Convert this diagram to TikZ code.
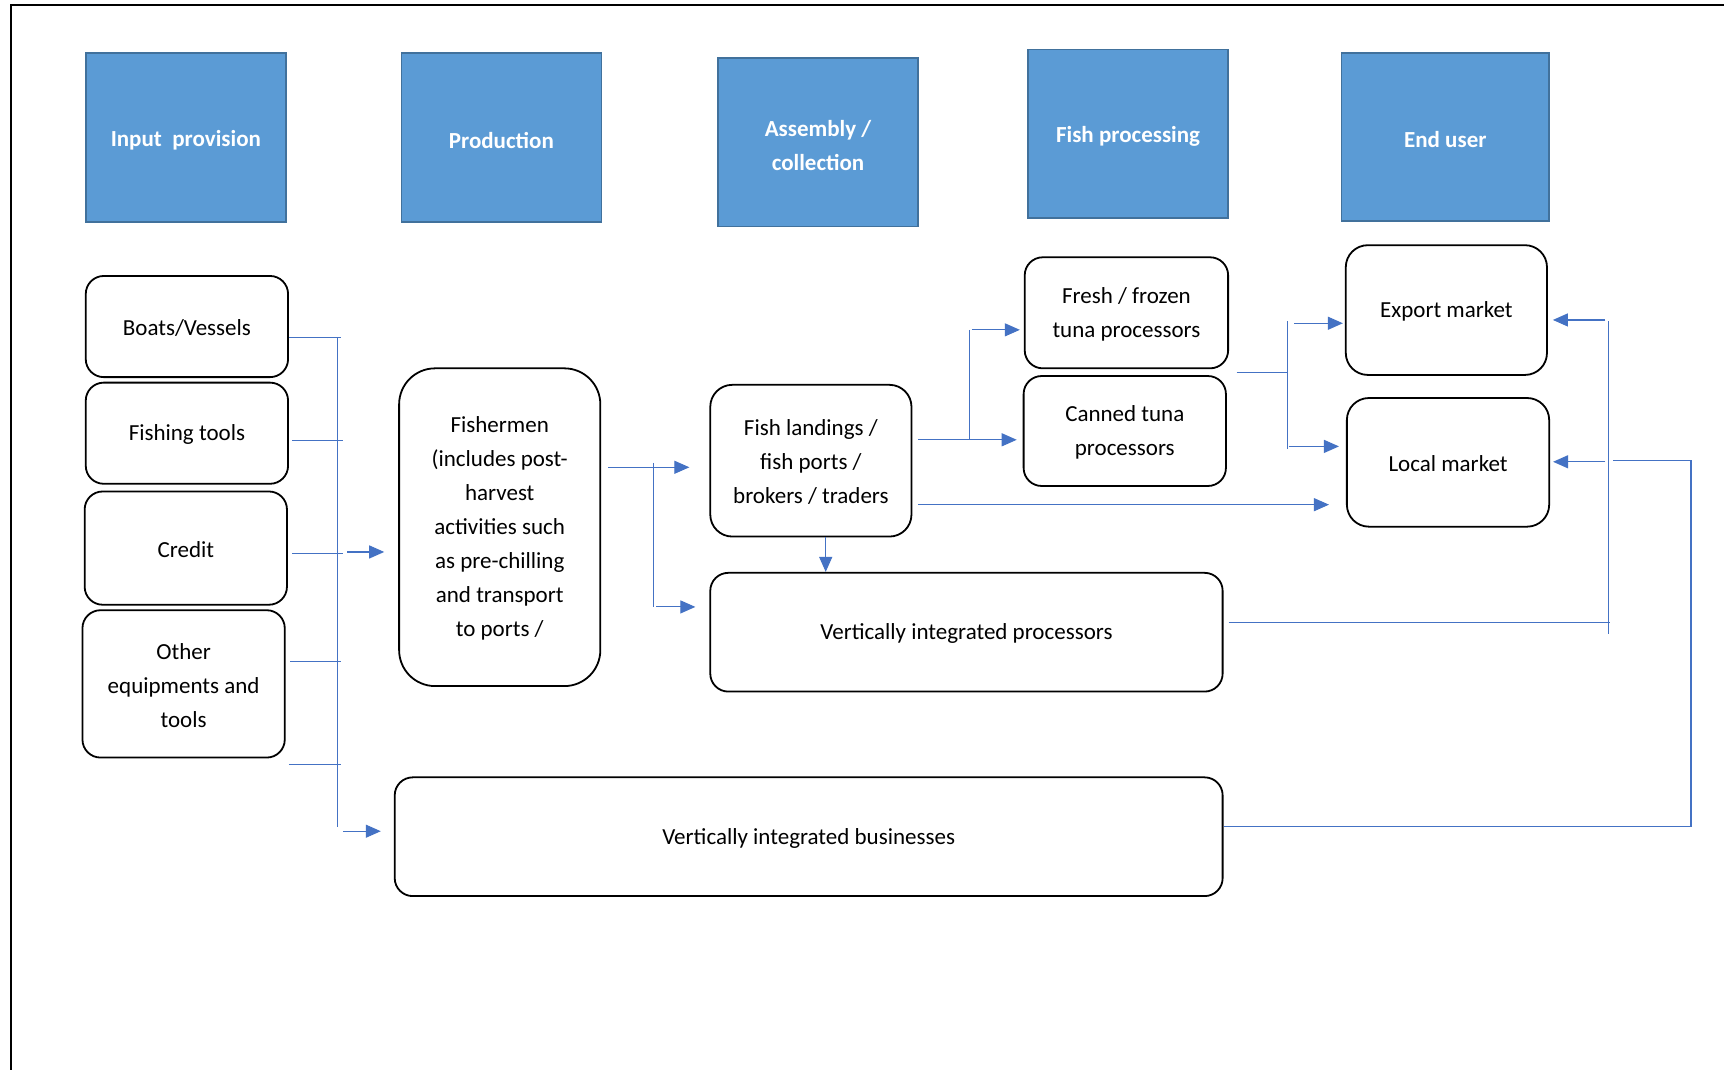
\documentclass[tikz,border=0pt]{standalone}
\usepackage{fontspec}
\setmainfont{Carlito}
\usetikzlibrary{arrows.meta,fit}
\definecolor{hdrfill}{HTML}{5B9BD5}
\definecolor{hdrline}{HTML}{41719C}
\definecolor{conncol}{HTML}{4472C4}
\tikzset{
  hdr/.style={draw=hdrline, line width=1.6pt, fill=hdrfill, inner sep=0pt},
  hdrtxt/.style={text=white, inner sep=0pt, font=\fontsize{23}{34}\selectfont\bfseries, align=center, yshift=-3pt},
  wbox/.style={draw=black, line width=1.8pt, rounded corners=18pt, fill=white, inner sep=0pt},
  boxtxt/.style={inner sep=0pt, font=\fontsize{23}{34}\selectfont, align=center, yshift=-1.5pt},
  conn/.style={draw=conncol, line width=1.1pt},
  arr/.style={conn, -{Triangle[length=15pt,width=13pt]}},
}
\newcommand{\boxlabel}[3][boxtxt]{\node[#1] (#2-t) at (#2.center) {#3};}
\begin{document}
\begin{tikzpicture}[x=1.0995pt,y=-1.0995pt]
\useasboundingbox (0,0) rectangle (1568,973);
\fill[white] (0,0) rectangle (1568,973);
% outer frame
\draw[line width=2pt] (10,973) -- (10,5) -- (1568,5);

% header boxes
\node[hdr, fit={(78,48)(260,202)}] (h1) {};
\node[hdr, fit={(365,48)(547,202)}] (h2) {};
\node[hdr, fit={(653,53)(835,206)}] (h3) {};
\node[hdr, fit={(935,45)(1117,198)}] (h4) {};
\node[hdr, fit={(1220,48)(1409,201)}] (h5) {};
\boxlabel[hdrtxt]{h1}{Input\ \ provision}
\boxlabel[hdrtxt]{h2}{Production}
\boxlabel[hdrtxt]{h3}{Assembly /\\collection}
\boxlabel[hdrtxt]{h4}{Fish processing}
\boxlabel[hdrtxt]{h5}{End user}

% left column
\node[wbox, fit={(78,251)(262,343)}] (boats) {};
\node[wbox, fit={(78,348)(262,440)}] (tools) {};
\node[wbox, fit={(77,447)(261,550)}] (credit) {};
\node[wbox, fit={(75,555)(259,689)}] (other) {};
\boxlabel{boats}{Boats/Vessels}
\boxlabel{tools}{Fishing tools}
\boxlabel{credit}{Credit}
\boxlabel{other}{Other\\equipments and\\tools}

% middle and right
\node[wbox, rounded corners=36pt, fit={(363,335)(546,624)}] (fisher) {};
\node[wbox, rounded corners=22pt, fit={(646,350)(829,488)}] (land) {};
\node[wbox, fit={(646,521)(1112,629)}] (vip) {};
\node[wbox, fit={(359,707)(1112,815)}] (vib) {};
\node[wbox, fit={(932,234)(1117,335)}] (fresh) {};
\node[wbox, fit={(931,342)(1115,442)}] (canned) {};
\node[wbox, rounded corners=22pt, fit={(1224,223)(1407,341)}] (export) {};
\node[wbox, rounded corners=22pt, fit={(1225,362)(1409,479)}] (local) {};
\boxlabel{fisher}{Fishermen\\(includes post-\\harvest\\activities such\\as pre-chilling\\and transport\\to ports /}
\boxlabel{land}{Fish landings /\\fish ports /\\brokers / traders}
\boxlabel{vip}{Vertically integrated processors}
\boxlabel{vib}{Vertically integrated businesses}
\boxlabel{fresh}{Fresh / frozen\\tuna processors}
\boxlabel{canned}{Canned tuna\\processors}
\boxlabel{export}{Export market}
\boxlabel{local}{Local market}

% left bus
\coordinate (busTop) at (307,307);
\coordinate (busBot) at (307,752);
\draw[conn] (boats.east |- 0,307) -- (310,307);
\draw[conn] (tools.east |- 0,401) ++(3,0) -- (312,401);
\draw[conn] (credit.east |- 0,503) ++(4,0) -- (312,503);
\draw[conn] (other.east |- 0,602) ++(4,0) -- (310,602);
\draw[conn] (other.east |- 0,695) ++(3,0) -- (310,695);
\draw[conn] (busTop) -- (busBot);
\coordinate (a1s) at (316,502);
\coordinate (a2s) at (312,756);
\draw[arr, shorten >=14pt] (a1s) -- (fisher.west |- a1s);
\draw[arr, shorten >=13pt] (a2s) -- (vib.west |- a2s);

% fishermen out
\draw[arr, shorten <=7pt, shorten >=20pt] (fisher.east |- 0,425) -- (land.west |- 0,425);
\draw[conn] (594,421) -- (594,552);
\coordinate (a3s) at (597,552);
\draw[arr, shorten >=14pt] (a3s) -- (vip.west |- a3s);

% landings out
\draw[arr, shorten <=6pt, shorten >=6pt] (land.east |- 0,400) -- (canned.west |- 0,400);
\draw[conn] (882,300) -- (882,400);
\coordinate (a4s) at (884,300);
\draw[arr, shorten >=4pt] (a4s) -- (fresh.west |- a4s);
\draw[arr, shorten <=6pt, shorten >=17pt] (land.east |- 0,459) -- (local.west |- 0,459);
\draw[arr] (land.south -| 751,0) -- (vip.north -| 751,0);

% processors to markets
\draw[conn] (fresh.east |- 0,339) ++(7,0) -- (1171,339);
\draw[conn] (1171,292) -- (1171,408);
\coordinate (a5s) at (1177,294);
\coordinate (a6s) at (1172,406);
\draw[arr, shorten >=2pt] (a5s) -- (export.west |- a5s);
\draw[arr, shorten >=7pt] (a6s) -- (local.west |- a6s);

% vertically integrated processors to markets
\draw[conn, shorten <=5pt] (vip.east |- 0,566) -- (1464,566);
\draw[conn] (1463,292) -- (1463,577);
\coordinate (a7s) at (1460,291);
\coordinate (a8s) at (1460,420);
\draw[arr, shorten >=5pt] (a7s) -- (export.east |- a7s);
\draw[arr, shorten >=3pt] (a8s) -- (local.east |- a8s);

% vertically integrated businesses to local market
\draw[conn] (vib.east |- 0,752) -- (1538,752) -- (1538,419) -- (1467,419);
\end{tikzpicture}
\end{document}
